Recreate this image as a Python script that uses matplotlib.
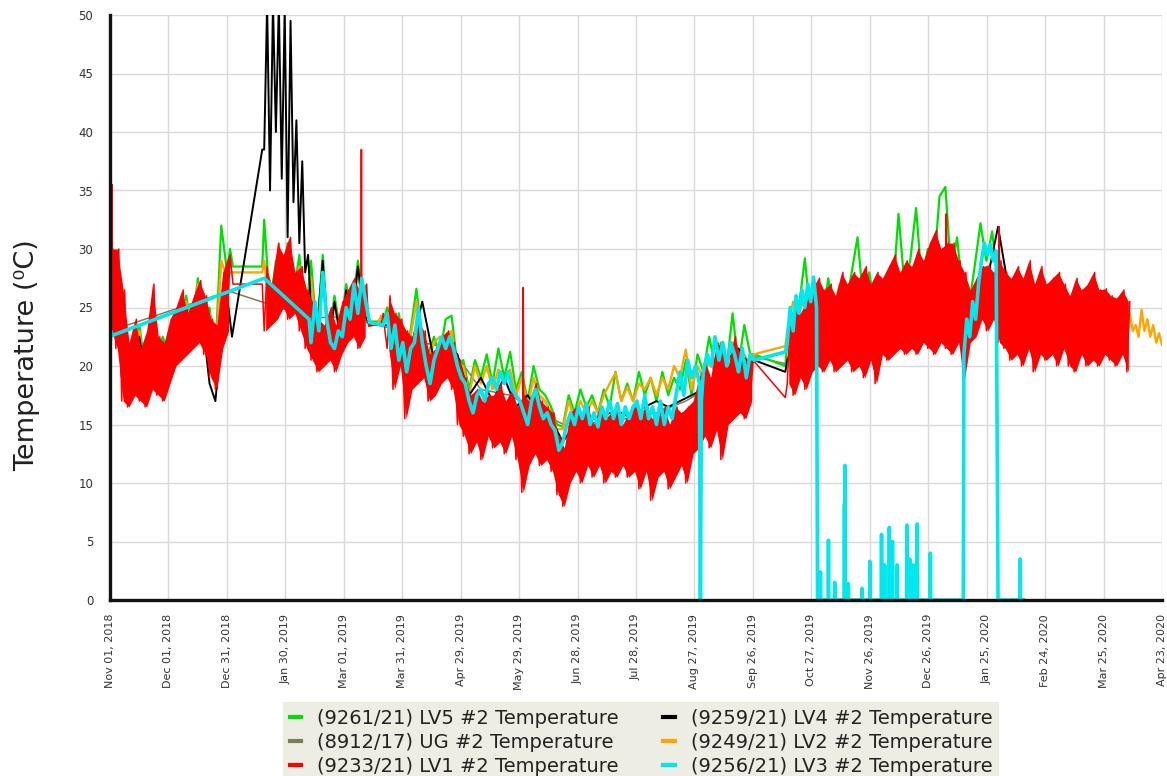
import numpy as np
import pandas as pd
import matplotlib
matplotlib.use("Agg")
import matplotlib.pyplot as plt
import matplotlib.dates as mdates
from matplotlib.lines import Line2D

START = pd.Timestamp("2018-11-01")
END = pd.Timestamp("2020-04-23")

tick_labels = ["Nov 01, 2018", "Dec 01, 2018", "Dec 31, 2018", "Jan 30, 2019",
               "Mar 01, 2019", "Mar 31, 2019", "Apr 29, 2019", "May 29, 2019",
               "Jun 28, 2019", "Jul 28, 2019", "Aug 27, 2019", "Sep 26, 2019",
               "Oct 27, 2019", "Nov 26, 2019", "Dec 26, 2019", "Jan 25, 2020",
               "Feb 24, 2020", "Mar 25, 2020", "Apr 23, 2020"]

series_names = ["(9261/21) LV5 #2 Temperature", "(8912/17) UG #2 Temperature",
                "(9233/21) LV1 #2 Temperature", "(9259/21) LV4 #2 Temperature",
                "(9249/21) LV2 #2 Temperature", "(9256/21) LV3 #2 Temperature"]

# ---- LV1 (red): segments of low/high readings every 1.5 days (alternating)
red_a = [23, 30, 21.5, 30, 17, 26.5, 16.5, 22, 17.5, 24, 17, 21.5, 16.5, 23, 18, 27,
         17.5, 22.5, 17, 22, 18.5, 24, 20, 25, 20.5, 26.5, 21, 24.5, 21.5, 26, 22, 27.3,
         21, 26, 19, 24, 18, 23.5, 21.5, 28, 23, 29.5]
red_gap1_days = [63, 78]
red_gap1 = [27, 27]
red_b = [23, 28.5, 23.5, 27, 24, 30.5, 25, 29.5, 24, 31, 24.5, 28, 23, 28.5, 21.5, 26.5,
         20.5, 25.5, 19.5, 24, 20, 23.5, 20.5, 25, 19.5, 23.5, 21, 25.5, 22, 26.5,
         22.5, 27.5, 21.5, 26.5, 22.5, 27]
red_gap2_days = [132.5, 139, 140, 141]
red_gap2 = [23.4, 23.6, 24.5, 22.8]
red_c = [21.5, 26, 18, 24.5, 20, 24, 15.5, 23, 18, 22.5, 18.5, 24, 19, 23, 17, 21,
         17.5, 21.5, 18.5, 22.5, 19, 23, 18, 22, 15, 20.5, 14, 19, 12.5, 17.5, 13.5, 18,
         12, 17, 14, 17.5, 13, 17.5, 13.5, 18.5, 12.5, 17, 14, 18, 12, 16.5, 9.2, 17.5,
         11.5, 17, 12.5, 18.5, 11.5, 17, 12, 16.5, 11, 16, 9, 14, 8, 13, 10, 16,
         11, 16.5, 10, 15.5, 11.5, 16.5, 10.5, 15, 11.5, 16.5, 10, 15.5, 11, 16,
         10.5, 16.5, 11.5, 15, 10.5, 16, 11, 16.5, 9.5, 16, 11, 16.5, 8.5, 15.5,
         10.5, 16, 11, 16.5, 9.5, 15, 10.5, 16.5, 11.5, 16, 10, 16.5, 12.5, 17,
         13, 19, 14, 20.5, 13, 19, 14.5, 22, 12, 21.5, 15, 20, 15.5, 22.5, 16, 21,
         15.5, 20.5, 17, 20.5]
red_gap3_days = [346]
red_gap3 = [17.3]
red_d = [18.5, 24, 17.5, 25, 19, 24.5, 18, 25.5, 19.5, 26.5, 20, 27.5, 19.5, 26.5,
         20.5, 27, 19.5, 26, 20, 28, 20.5, 27, 19.5, 28, 20, 27.5, 19, 28.5, 20.5, 27,
         18.5, 28, 21, 27.5, 20.5, 28.5, 21, 29.5, 21.5, 28, 21, 29, 21.5, 28.5, 21, 30,
         22, 29, 21.5, 30.5, 21, 31.6, 22, 30, 21.5, 30.5, 21, 30.5, 22, 29, 18.8, 28,
         22, 26.5, 22.5, 27.5, 24, 28.5, 23, 28.6, 24, 28, 22, 29, 21.5, 28,
         20.5, 27.5, 21, 28.5, 20, 27.5, 21.5, 29, 19.5, 27, 21, 28.5, 20.5, 27,
         21, 27.5, 20, 28, 21.5, 27, 20, 26, 19.5, 27.5, 21, 26.5, 20, 27, 20.5, 28,
         20, 26.5, 21, 26.6, 20.5, 26, 20, 25.8, 21, 26.5, 19.5, 25.5]
# isolated red spikes: day, reading before, peak
red_spike_days = [1.0, 128.8, 211.7, 428.5, 455.5]
red_spike_base = [27, 24, 16, 29, 28]
red_spike_peak = [35.5, 38.5, 26.7, 33, 31.9]

# ---- LV5 (green)
green_a = [24, 28, 20, 22, 19, 23.5, 20, 24, 21, 22.5, 21, 24.5, 22, 26, 23, 27.5, 24, 25,
           21, 32, 28]
green_gap1_days = [61.5, 63, 78]
green_gap1 = [30, 28.5, 28.5]
green_b = [32.5, 25, 29, 26, 30.5, 26, 29.5, 23.5, 29, 22.5, 29.5, 22, 26, 23, 27, 24.5,
           29, 25]
green_gap2_days = [133, 140]
green_gap2 = [23.8, 23.8]
green_c = [25, 22, 24.5, 21, 23, 26.6, 22, 21, 22.5, 21, 24, 24.3, 20, 20.5, 18, 20.5, 19,
           21, 18.5, 21.5, 19, 21.2, 18, 19.5, 17, 20, 18, 17.5, 16.5, 15, 14.8, 17.5, 16,
           18, 16.5, 17.5, 16, 18, 16.5, 19.5, 17, 18.5, 17, 19.5, 17.5, 19, 17, 19.5,
           17.5, 19, 18, 20.5, 17.5, 21, 19.5, 22.5, 20, 22, 20, 24.5, 20, 23.5, 21]
green_gap3_days = [330, 346]
green_gap3 = [21, 20]
green_d = [22, 24, 25, 29.2, 24, 27, 24, 27.5, 24.5, 27, 25, 28, 31, 25.5, 28, 25, 27.5,
           25.5, 26, 33, 27, 29, 33.5, 27, 30, 28, 34.5, 35.3, 28, 31, 26, 25, 28.5,
           32.2, 29, 31.5, 27, 26]

# ---- LV4 (black)
black_a = [25, 28.5, 19, 21, 18.5, 22.5, 19.5, 23, 20.5, 22, 20.5, 24, 21.5, 25, 22.5,
           26.5, 23, 18.5, 17, 22.5, 26]
black_gap1_days = [62.5, 78]
black_gap1 = [22.5, 38.5]
black_b1 = [38.5, 51, 35, 51, 40, 51, 36, 50.5, 31, 49.5, 34, 41, 30.5, 37.5, 28, 29.5, 25]
black_b2 = [23, 29, 21.5, 25.5, 22.5, 26.5, 24, 28.5, 24.5]
black_gap2_days = [133, 140]
black_gap2 = [23.5, 23.5]
black_c = [23.5, 21, 21.5, 25.5, 20.5, 22, 21, 17.5, 19, 17, 19, 16.5, 17.5, 16, 15.5,
           13.5, 15, 15.5, 15.5, 16, 16, 15.5, 16.5, 17, 16.5, 17, 17.5, 18, 19, 20.5,
           21.5, 20]
black_gap3_days = [330, 346]
black_gap3 = [20.5, 19.5]
black_d = [20.5, 23, 24, 23, 24.5, 23.5, 25, 24, 25.5, 24.5, 26, 26.5, 25.5, 27, 26, 24,
           25.5, 27, 31.9, 26, 24.5, 24, 23.5, 24.5, 23, 22, 23, 23.5]

# ---- LV2 (orange)
orange_a = [25, 28, 19.5, 21.5, 18.5, 23, 19.5, 23.5, 20.5, 22, 20.5, 24, 21.5, 25.5,
            22.5, 27, 23.5, 24.5, 20.5, 29, 27.5]
orange_gap1_days = [61.5, 63, 78]
orange_gap1 = [28, 28, 28]
orange_b = [29, 24.5, 28, 25.5, 29.5, 25.5, 28.5, 23, 27.5, 22, 28.5, 21.5, 25.5, 22.5,
            26.5, 24, 28, 24.5]
orange_gap2_days = [133, 137, 139, 140.5]
orange_gap2 = [23.5, 23.6, 24.3, 23.9]
orange_c = [24.5, 21.5, 24, 20.5, 22.5, 25.5, 21.5, 20.5, 22, 22.5, 22, 23, 19.5, 20,
            17.5, 20, 18.5, 20, 18, 19.7, 18.5, 19.7, 17.5, 19, 16.5, 19, 17.5, 17, 16,
            14.6, 14.6, 17, 15.5, 17, 16, 17, 16, 17.5, 18.5, 19.4, 17, 18.2, 17, 18.5,
            18, 19, 17.5, 19, 18, 20, 19, 21.4, 18, 20, 19, 20.5, 19.5, 21, 20, 22,
            19.5, 21, 20]
orange_gap3_days = [330, 346]
orange_gap3 = [21, 21.7]
orange_d = [23, 25.5, 24.5, 26, 25, 26.5, 25, 26.5, 25, 27, 25.5, 26.5, 25, 26.5, 25,
            26.5, 25.5, 26.5, 25, 26.5, 25.5, 26.5, 25.5, 27, 25.5, 27, 26, 27, 25.5,
            26.5, 24.5, 25.5, 25, 26.5, 26, 27, 26.5, 27, 25.5, 26.5, 25, 26, 24.5, 25.5,
            24.5, 25.5, 24, 25.5, 24, 25, 23.5, 24.5, 23, 24.5, 23.5, 24, 23, 24]
orange_e = [24, 22.5, 24.5, 23, 23.5, 22.5, 24.8, 23, 24, 22.5, 23.5, 22, 22.8, 21.8]

# ---- UG (olive), sparse readings
olive_days = [0, 61, 103, 116, 132, 142, 160, 175, 190, 205, 220, 235, 250, 265, 280,
              295, 310, 325, 330, 346, 360, 380, 400, 420, 440, 450, 456, 462, 480,
              500, 510]
olive_vals = [23, 26.4, 24.1, 24.2, 23.7, 23.3, 22, 21.5, 18, 17.5, 16, 14.8, 15.2, 15.5,
              16, 17, 18.5, 19.5, 20.8, 20.2, 22.5, 23.5, 24.5, 25, 24.5, 26, 28.5, 25,
              24, 23, 23]

# ---- LV3 (cyan)
cyan_a_days = [0, 0.5, 1, 79, 102]
cyan_a = [21.5, 23, 22.6, 27.5, 24]
cyan_b = [22, 25.5, 23, 28, 24, 22, 21.5, 23, 22.5, 25, 24, 27, 24.5, 27.5, 25.5]
cyan_gap1_days = [133, 140]
cyan_gap1 = [23.7, 23.5]
cyan_c = [24.5, 21.5, 23.5, 20.5, 22, 19.5, 21.5, 22, 25, 22, 20, 18.5, 20.5, 21.5, 22.5,
          21.5, 22.5, 21.5, 20, 19, 18.5, 17, 16, 17.5, 18, 17, 18.5, 19, 18, 19.5, 18.5,
          19.5, 18, 17.5, 17, 16, 15, 17, 18, 16.5, 15.5, 16, 15, 14.5, 12.8, 13.5, 15,
          16, 15, 16.5, 15.5, 16.8, 15, 16, 14.8, 16.5, 15.5, 17, 15.5, 16.8, 15, 16.5,
          15.5, 16.5, 17, 15.5, 17.5, 15.5, 16.5, 15, 17, 15, 16.5, 15.5, 17.5, 19.5,
          17.5, 20.5, 19, 20, 18.5]
cyan_drop_days = [302.5, 303]
cyan_drop = [0, 17]
cyan_c2 = [19.5, 21, 20, 22.5, 20.5, 22, 20, 22, 21, 19.5, 21.5, 19, 21, 20.5]
cyan_gap2_days = [346]
cyan_gap2 = [21.2]
cyan_d = [22, 25, 23, 26, 24.5, 26.5, 25, 27, 25.5, 27.6, 25]
cyan_spike_days = [364, 368.1, 371.3, 376.3, 376.6, 378.3, 385.3, 389.3, 395.3, 396.9,
                   399.3, 400.9, 403.3, 408.3, 409.8, 411.5, 413.6, 420.3, 466.3]
cyan_spike_vals = [2.4, 5.1, 1.5, 8.2, 11.5, 1.4, 1.0, 3.3, 5.6, 3.0, 6.2, 5.0, 3.0,
                   6.4, 3.5, 3.0, 6.5, 4.0, 3.5]
cyan_e = [21, 24, 22.5, 25.5, 24, 27, 29, 30.5, 29.5, 30.4, 29, 29.8]


def seg(start, step, vals):
    return list(start + step * np.arange(len(vals))), list(vals)


def to_time(days):
    return START + pd.to_timedelta(np.array(days, dtype=float), unit="D")


def build(parts):
    d, v = [], []
    for pd_, pv in parts:
        d += list(pd_)
        v += list(pv)
    return to_time(d), np.array(v, dtype=float)


red_parts = [(0, red_a), (79, red_b), (142, red_c), (347, red_d)]
red_t, red_v = build([seg(0, 1.5, red_a), (red_gap1_days, red_gap1), seg(79, 1.5, red_b),
                      (red_gap2_days, red_gap2), seg(142, 1.5, red_c),
                      (red_gap3_days, red_gap3), seg(347, 1.5, red_d)])
green_t, green_v = build([seg(0, 3, green_a), (green_gap1_days, green_gap1),
                          seg(79, 3, green_b), (green_gap2_days, green_gap2),
                          seg(142, 3, green_c), (green_gap3_days, green_gap3),
                          seg(347, 3, green_d)])
black_t, black_v = build([seg(0, 3, black_a), (black_gap1_days, black_gap1),
                          seg(79, 1.5, black_b1), seg(106, 3, black_b2),
                          (black_gap2_days, black_gap2), seg(142, 6, black_c),
                          (black_gap3_days, black_gap3), seg(347, 6, black_d)])
orange_t, orange_v = build([seg(0, 3, orange_a), (orange_gap1_days, orange_gap1),
                            seg(79, 3, orange_b), (orange_gap2_days, orange_gap2),
                            seg(142, 3, orange_c), (orange_gap3_days, orange_gap3),
                            seg(347, 3, orange_d), seg(519.5, 1.5, orange_e)])
olive_t, olive_v = build([(olive_days, olive_vals)])

spike_d, spike_v = [], []
for sd, sv in zip(cyan_spike_days, cyan_spike_vals):
    spike_d += [sd - 0.15, sd, sd + 0.15]
    spike_v += [0, sv, 0]
n_mid = len(cyan_spike_days) - 1
cyan_t, cyan_v = build([(cyan_a_days, cyan_a), seg(103, 2, cyan_b),
                        (cyan_gap1_days, cyan_gap1), seg(142, 2, cyan_c),
                        (cyan_drop_days, cyan_drop), seg(304, 2, cyan_c2),
                        (cyan_gap2_days, cyan_gap2), seg(347, 1.5, cyan_d),
                        ([362.5], [0]), (spike_d[:3 * n_mid], spike_v[:3 * n_mid]),
                        ([437.2], [0]), seg(437.5, 1.5, cyan_e), ([455], [0]),
                        (spike_d[3 * n_mid:], spike_v[3 * n_mid:]), ([468], [0])])

colors = {"green": "#00e000", "olive": "#7d7d55", "red": "#ff0000",
          "black": "#000000", "orange": "#ffa500", "cyan": "#00e8ee"}

fig = plt.figure(figsize=(11.67, 7.76), dpi=100)
ax = fig.add_axes([110 / 1167, 1 - 600 / 776, 1052 / 1167, 585 / 776])

ax.plot(olive_t, olive_v, color=colors["olive"], lw=1.1, zorder=2.0)
ax.plot(green_t, green_v, color=colors["green"], lw=1.6, zorder=2.1)
ax.plot(orange_t, orange_v, color=colors["orange"], lw=1.7, zorder=2.2)
ax.plot(black_t, black_v, color=colors["black"], lw=1.4, zorder=2.3)
# red: dense band between the low and high readings, plus the raw zigzag on top
for start, vals in red_parts:
    lo = np.array(vals[0::2], dtype=float)
    hi = np.array(vals[1::2], dtype=float)
    tt = to_time(start + 3 * np.arange(len(lo)) + 0.75)
    ax.fill_between(tt, lo, hi, color=colors["red"], lw=0, zorder=2.4)
ax.plot(red_t, red_v, color=colors["red"], lw=1.1, zorder=2.4)
for sd, sb, sp in zip(red_spike_days, red_spike_base, red_spike_peak):
    ax.plot(to_time([sd - 0.2, sd, sd + 0.2]), [sb, sp, sb], color=colors["red"],
            lw=1.2, zorder=2.4)
ax.plot(cyan_t, cyan_v, color=colors["cyan"], lw=2.6, zorder=2.5)

ax.set_ylim(0, 50)
ax.set_yticks(np.arange(0, 51, 5))
ax.set_xlim(mdates.date2num(START), mdates.date2num(END))
ticks = np.linspace(mdates.date2num(START), mdates.date2num(END), len(tick_labels))
ax.set_xticks(ticks)
ax.set_xticklabels(tick_labels, rotation=90, fontsize=8, color="#333333")
ax.tick_params(axis="x", length=0, pad=10)
ax.tick_params(axis="y", length=0, pad=12, labelsize=8.5, labelcolor="#333333")
ax.grid(True, color="#d9d9d9", lw=1.0, zorder=0)
ax.set_axisbelow(True)
for s in ["top", "right"]:
    ax.spines[s].set_visible(False)
for s in ["left", "bottom"]:
    ax.spines[s].set_linewidth(2.4)
    ax.spines[s].set_color("#111111")
    ax.spines[s].set_zorder(3)

fig.text(27 / 1167, 1 - 355 / 776, "Temperature (\u2070C)", rotation=90, ha="center",
         va="center", fontsize=19.5, color="#222222")

order = ["green", "olive", "red", "black", "orange", "cyan"]
handles = [Line2D([0], [0], color=colors[c], lw=3) for c in order]
leg = fig.legend(handles, series_names, loc="upper left",
                 bbox_to_anchor=(283 / 1167, 1 - 702 / 776), ncol=2, frameon=True,
                 fontsize=14, handlelength=0.6, handletextpad=0.8, columnspacing=2.3,
                 labelspacing=0.25, borderpad=0.35, borderaxespad=0)
leg.get_frame().set_facecolor("#e9e9dd")
leg.get_frame().set_edgecolor("none")
leg.get_frame().set_boxstyle("square", pad=0)
for t in leg.get_texts():
    t.set_color("#222222")

fig.savefig("out.png", dpi=100)
